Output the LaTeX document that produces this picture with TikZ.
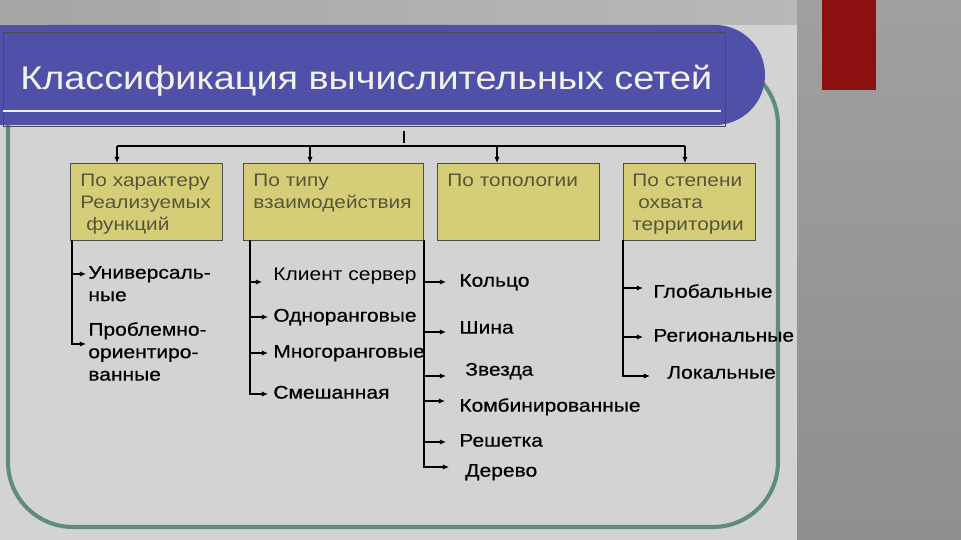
\documentclass[tikz,border=0pt]{standalone}
\usepackage{fontspec}
\setmainfont{Liberation Sans}[FakeStretch=1.15]
\newfontfamily\heavyfont{Liberation Sans}[FakeStretch=1.15, FakeBold=0.5]
\usetikzlibrary{arrows.meta, positioning, calc}
\definecolor{slidebg}{RGB}{211, 211, 211}
\definecolor{sidegray}{RGB}{143, 143, 143}
\definecolor{topgray}{RGB}{168, 168, 168}
\definecolor{bannerblue}{RGB}{80, 80, 168}
\definecolor{frameteal}{RGB}{95, 139, 128}
\definecolor{khaki}{RGB}{214, 205, 120}
\definecolor{olivetext}{RGB}{88, 86, 58}
\definecolor{markred}{RGB}{140, 16, 16}
\newcommand{\lines}[1]{\begin{tabular}[t]{@{}l@{}}#1\end{tabular}}

\begin{document}
\begin{tikzpicture}[x=0.02cm, y=-0.02cm,
  catbox/.style={draw=black!70, fill=khaki, anchor=north west, align=left, inner xsep=0.2cm, inner ysep=0.06cm, text height=0.4cm, text depth=1.02cm, text=olivetext, font=\fontsize{10.3}{12.5}\selectfont},
  item/.style={anchor=mid west, inner sep=0pt, font=\heavyfont\fontsize{10.4}{12.8}\selectfont},
  arr/.style={-{Latex[length=3.5pt, width=3pt]}, line width=0.6pt},
  trunk/.style={line width=0.6pt}]
  \useasboundingbox (0,0) rectangle (961,540);

  % Slide background
  \fill[sidegray] (0,0) rectangle (961,540);
  \shade[top color=gray!75, bottom color=sidegray] (797,0) rectangle (961,540);
  \shade[left color=gray!70, right color=gray!55] (0,0) rectangle (797,25);
  \fill[slidebg] (0,25) rectangle (797,540);
  \fill[markred] (822,0) rectangle (876,90);

  % Frame
  \draw[frameteal, line width=2.3pt, rounded corners=37pt] (8,60) rectangle (778,527);

  % Title banner
  \fill[bannerblue, rounded corners=28.4pt] (0,25) rectangle (765,125);
  \fill[bannerblue] (0,25) rectangle (100,125);
  \draw[black!70, line width=0.4pt] (3,32) rectangle (725,126);
  \draw[white!88!gray, line width=1.3pt] (3,111) -- (721,111);
  \node[anchor=mid west, inner sep=0pt, text=white!90!gray, font=\fontsize{18.7}{22}\selectfont] (title) at (20,85) {Классификация вычислительных сетей};

  % Categories
  \node[catbox, text width=2.64cm] (box1) at (70,163) {По характеру\\Реализуемых\\\hspace{0.12cm}функций};
  \node[catbox, text width=3.2cm] (box2) at (243,163) {По типу\\взаимодействия};
  \node[catbox, text width=2.84cm] (box3) at (437,163) {По топологии};
  \node[catbox, text width=2.28cm, inner xsep=0.18cm] (box4) at (623,163) {По степени\\\hspace{0.12cm}охвата\\территории};

  % Bus
  \coordinate (tickA) at (404,131);
  \coordinate (tickB) at (404,143);
  \coordinate (b1) at (117,146);
  \coordinate (b2) at (310,146);
  \coordinate (b3) at (497,146);
  \coordinate (b4) at (685,146);
  \draw[trunk] (tickA) -- (tickB);
  \draw[trunk] (b1) -- (b4);
  \draw[arr] (b1) -- (b1 |- box1.north);
  \draw[arr] (b2) -- (b2 |- box2.north);
  \draw[arr] (b3) -- (b3 |- box3.north);
  \draw[arr] (b4) -- (b4 |- box4.north);

  % By function
  \coordinate (t1) at (72,240);
  \node[item] (univ) at (88,274) {\lines{Универсаль-\\ные}};
  \node[item] (prob) at (88,331) {\lines{Проблемно-\\ориентиро-\\ванные}};
  \coordinate (proba) at ([yshift=-0.26cm]prob.mid west);
  \draw[arr, shorten >=0.04cm] (t1 |- univ.mid west) -- (univ.mid west);
  \draw[arr, shorten >=0.04cm] (t1) |- (proba);

  % By interaction
  \coordinate (t2) at (250,240);
  \node[item, font=\fontsize{10.4}{12.8}\selectfont] (cs) at (273,276) {Клиент сервер};
  \node[item] (peer) at (273,317) {Одноранговые};
  \node[item] (multi) at (273,353) {Многоранговые};
  \node[item] (mixed) at (273,394) {Смешанная};
  \coordinate (csa) at ([yshift=-0.12cm]cs.mid west);
  \draw[arr, shorten >=0.22cm] (t2 |- csa) -- (csa);
  \draw[arr, shorten >=0.1cm] (t2 |- peer.mid west) -- (peer.mid west);
  \draw[arr, shorten >=0.1cm] (t2 |- multi.mid west) -- (multi.mid west);
  \draw[arr, shorten >=0.1cm] (t2) |- (mixed.mid west);

  % By topology
  \coordinate (t3) at (424,240);
  \node[item] (ring) at (459,282) {Кольцо};
  \node[item] (busnet) at (459,329) {Шина};
  \node[item] (star) at (465,371) {Звезда};
  \node[item] (comb) at (459,407) {Комбинированные};
  \node[item] (grid) at (459,442) {Решетка};
  \node[item] (tree) at (465,472) {Дерево};
  \coordinate (busa) at ([yshift=-0.06cm]busnet.mid west);
  \coordinate (stara) at ([yshift=-0.1cm]star.mid west);
  \coordinate (comba) at ([yshift=0.12cm]comb.mid west);
  \coordinate (treea) at ([yshift=0.1cm]tree.mid west);
  \draw[arr, shorten >=0.26cm] (t3 |- ring.mid west) -- (ring.mid west);
  \draw[arr, shorten >=0.26cm] (t3 |- busa) -- (busa);
  \draw[arr, shorten >=0.38cm] (t3 |- stara) -- (stara);
  \draw[arr, shorten >=0.28cm] (t3 |- comba) -- (comba);
  \draw[arr, shorten >=0.26cm] (t3 |- grid.mid west) -- (grid.mid west);
  \draw[arr, shorten >=0.32cm] (t3) |- (treea);

  % By territory
  \coordinate (t4) at (623,240);
  \node[item] (glob) at (653,293) {Глобальные};
  \node[item] (reg) at (653,337) {Региональные};
  \node[item] (loc) at (667,374) {Локальные};
  \coordinate (globa) at ([yshift=0.1cm]glob.mid west);
  \coordinate (loca) at ([yshift=-0.04cm]loc.mid west);
  \draw[arr, shorten >=0.2cm] (t4 |- globa) -- (globa);
  \draw[arr, shorten >=0.2cm] (t4 |- reg.mid west) -- (reg.mid west);
  \draw[arr, shorten >=0.34cm] (t4) |- (loca);
\end{tikzpicture}
\end{document}
